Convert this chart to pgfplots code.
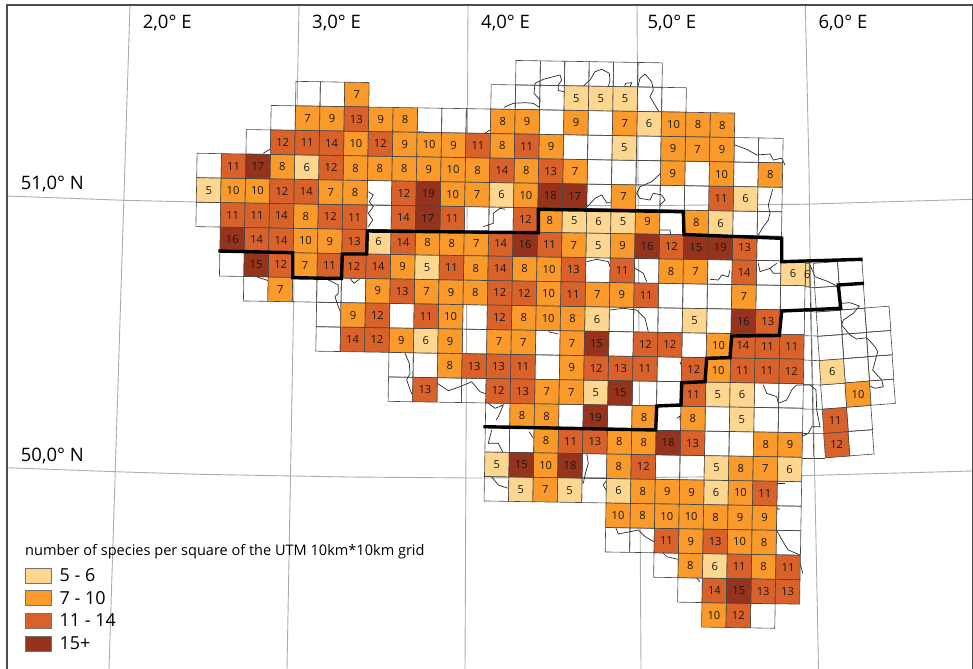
\documentclass[border=0pt]{standalone}
\usepackage{fontspec}
\setmainfont{Open Sans}
\usepackage{pgfplots}
\usepackage{pgfplotstable}
\pgfplotsset{compat=1.18}

\definecolor{cA}{RGB}{253,215,143}
\definecolor{cB}{RGB}{249,154,43}
\definecolor{cC}{RGB}{217,98,43}
\definecolor{cD}{RGB}{149,51,29}
\definecolor{edge}{RGB}{70,70,70}
\definecolor{gratcol}{RGB}{172,172,172}

% main grid (zone 31), col row n, one cell per entry
\pgfplotstableread[row sep=\\]{
col row\\
13 -5\\ 14 -5\\ 15 -5\\ 16 -5\\ 17 -5\\ 18 -5\\
4 -4\\ 5 -4\\ 12 -4\\ 13 -4\\ 14 -4\\ 18 -4\\ 19 -4\\
3 -3\\ 9 -3\\ 10 -3\\ 11 -3\\ 14 -3\\ 16 -3\\
2 -2\\ 15 -2\\ 16 -2\\ 18 -2\\ 22 -2\\ 23 -2\\
0 -1\\ 16 -1\\ 17 -1\\ 18 -1\\ 20 -1\\ 22 -1\\
7 0\\ 16 0\\ 18 0\\ 19 0\\ 20 0\\ 23 0\\
0 1\\ 7 1\\ 11 1\\ 12 1\\ 19 1\\ 22 1\\ 23 1\\
23 2\\
1 3\\ 16 3\\ 18 3\\ 21 3\\ 23 3\\
2 4\\ 4 4\\ 5 4\\ 6 4\\ 19 4\\ 20 4\\ 21 4\\ 23 4\\ 24 4\\
5 5\\ 8 5\\ 11 5\\ 17 5\\ 18 5\\ 19 5\\ 21 5\\ 24 5\\
5 6\\ 11 6\\ 14 6\\ 17 6\\ 20 6\\
8 7\\ 9 7\\ 14 7\\ 19 7\\
8 8\\ 10 8\\ 11 8\\ 18 8\\ 19 8\\ 23 8\\ 24 8\\
12 9\\ 15 9\\ 17 9\\ 19 9\\ 21 9\\ 23 9\\ 24 9\\
12 10\\ 13 10\\ 21 10\\ 22 10\\
16 11\\ 19 11\\ 20 11\\
12 12\\ 16 12\\ 24 12\\
24 13\\
17 14\\ 18 14\\ 24 14\\
19 15\\
20 16\\
23 17\\
}\cellsW

\pgfplotstableread[row sep=\\]{
col row n\\
15 -4 5\\ 16 -4 5\\ 17 -4 5\\
18 -3 6\\ 17 -2 5\\ 4 -1 6\\
0 0 5\\ 12 0 6\\ 22 0 6\\
15 1 5\\ 16 1 6\\ 17 1 5\\ 21 1 6\\
7 2 6\\ 16 2 5\\ 24 3 6\\ 9 3 5\\
16 5 6\\ 20 5 5\\ 9 6 6\\
16 8 5\\ 21 8 5\\ 22 8 6\\ 22 9 5\\
12 11 5\\ 21 11 5\\ 24 11 6\\
13 12 5\\ 15 12 5\\ 17 12 6\\ 21 12 6\\
21 15 6\\
}\cellsA

\pgfplotstableread[row sep=\\]{
col row n\\
6 -4 7\\
4 -3 7\\ 5 -3 9\\ 7 -3 9\\ 8 -3 8\\ 12 -3 8\\ 13 -3 9\\ 15 -3 9\\ 17 -3 7\\ 19 -3 10\\ 20 -3 8\\ 21 -3 8\\
6 -2 10\\ 8 -2 9\\ 9 -2 10\\ 10 -2 9\\ 12 -2 8\\ 14 -2 9\\ 19 -2 9\\ 20 -2 7\\ 21 -2 9\\
3 -1 8\\ 6 -1 8\\ 7 -1 8\\ 8 -1 8\\ 9 -1 9\\ 10 -1 10\\ 11 -1 8\\ 13 -1 8\\ 15 -1 7\\ 19 -1 9\\ 21 -1 10\\ 23 -1 8\\
1 0 10\\ 2 0 10\\ 5 0 7\\ 6 0 8\\ 10 0 10\\ 11 0 7\\ 13 0 10\\ 17 0 7\\
4 1 8\\ 14 1 8\\ 18 1 9\\ 20 1 8\\
4 2 10\\ 5 2 9\\ 9 2 8\\ 10 2 8\\ 11 2 7\\ 15 2 7\\ 17 2 9\\
4 3 7\\ 8 3 9\\ 11 3 8\\ 13 3 8\\ 14 3 10\\ 19 3 8\\ 20 3 7\\
3 4 7\\ 7 4 9\\ 9 4 7\\ 10 4 9\\ 11 4 8\\ 14 4 10\\ 16 4 7\\ 17 4 9\\ 22 4 7\\
6 5 9\\ 10 5 10\\ 13 5 8\\ 14 5 10\\ 15 5 8\\
8 6 9\\ 10 6 9\\ 12 6 7\\ 13 6 7\\ 15 6 7\\ 21 6 10\\
10 7 8\\ 15 7 9\\ 21 7 10\\
14 8 7\\ 15 8 7\\
13 9 8\\ 14 9 8\\ 18 9 8\\ 20 9 8\\
14 10 8\\ 17 10 8\\ 18 10 8\\ 23 10 8\\ 24 10 9\\
14 11 10\\ 17 11 8\\ 22 11 8\\ 23 11 7\\
14 12 7\\ 18 12 8\\ 19 12 9\\ 20 12 9\\ 22 12 10\\
17 13 10\\ 18 13 8\\ 19 13 10\\ 20 13 10\\ 21 13 8\\ 22 13 9\\ 23 13 9\\
20 14 9\\ 22 14 10\\ 23 14 8\\
20 15 8\\ 23 15 8\\
21 17 10\\
}\cellsB

\pgfplotstableread[row sep=\\]{
col row n\\
6 -3 13\\
3 -2 12\\ 4 -2 11\\ 5 -2 14\\ 7 -2 12\\ 11 -2 11\\ 13 -2 11\\
1 -1 11\\ 5 -1 12\\ 12 -1 14\\ 14 -1 13\\
3 0 12\\ 4 0 14\\ 8 0 12\\ 21 0 11\\
1 1 11\\ 2 1 11\\ 3 1 14\\ 5 1 12\\ 6 1 11\\ 8 1 14\\ 10 1 11\\ 13 1 12\\
2 2 14\\ 3 2 14\\ 6 2 13\\ 8 2 14\\ 12 2 14\\ 14 2 11\\ 19 2 12\\ 22 2 13\\
3 3 12\\ 5 3 11\\ 6 3 12\\ 7 3 14\\ 10 3 11\\ 12 3 14\\ 15 3 13\\ 17 3 11\\ 22 3 14\\
8 4 13\\ 12 4 12\\ 13 4 12\\ 15 4 11\\ 18 4 11\\
7 5 12\\ 9 5 11\\ 12 5 12\\ 23 5 13\\
6 6 14\\ 7 6 12\\ 18 6 12\\ 19 6 12\\ 22 6 14\\ 23 6 11\\ 24 6 11\\
11 7 13\\ 12 7 13\\ 13 7 11\\ 16 7 12\\ 17 7 13\\ 18 7 11\\ 20 7 12\\ 22 7 11\\ 23 7 11\\ 24 7 12\\
9 8 13\\ 12 8 12\\ 13 8 13\\ 20 8 11\\
15 10 11\\ 16 10 13\\ 20 10 13\\
18 11 12\\
23 12 11\\
19 14 11\\ 21 14 13\\
22 15 11\\ 24 15 11\\
21 16 14\\ 23 16 13\\ 24 16 13\\
22 17 12\\
}\cellsC

\pgfplotstableread[row sep=\\]{
col row n\\
2 -1 17\\ 9 0 19\\ 14 0 18\\ 15 0 17\\ 9 1 17\\
1 2 16\\ 13 2 16\\ 18 2 16\\ 20 2 15\\ 21 2 19\\
2 3 15\\ 22 5 16\\ 16 6 15\\ 17 8 15\\ 16 9 19\\
19 10 18\\ 13 11 15\\ 15 11 18\\ 22 16 15\\
}\cellsD

% eastern block (zone 32)
\pgfplotstableread[row sep=\\]{
col row\\
0 -4\\ 0 -3\\ 0 -2\\ 0 -1\\ 0 1\\
1 -4\\ 1 -3\\ 1 -2\\ 1 -1\\ 1 0\\ 1 2\\ 1 3\\
2 -2\\ 2 -1\\ 2 0\\ 2 1\\
}\eastW
\pgfplotstableread[row sep=\\]{
col row n\\
0 0 6\\
}\eastA
\pgfplotstableread[row sep=\\]{
col row n\\
1 1 10\\
}\eastB
\pgfplotstableread[row sep=\\]{
col row n\\
0 2 11\\ 0 3 12\\
}\eastC

\newcommand{\gx}{196.7+24.4*(\thisrow{col}+.5)-0.42*(\thisrow{row}+.5)}
\newcommand{\gy}{177.7+0.4*(\thisrow{col}+.5)+24.5*(\thisrow{row}+.5)}
\newcommand{\ex}{819.3+24.3*(\thisrow{col}+.5)+1.5*(\thisrow{row}+.5)}
\newcommand{\ey}{360.7-2*(\thisrow{col}+.5)+24.3*(\thisrow{row}+.5)}

\pgfplotsset{mapaxis/.style={
  at={(0bp,0bp)}, anchor=south west,
  scale only axis, width=973bp, height=669bp,
  xmin=0, xmax=973, ymin=0, ymax=669, y dir=reverse,
  hide axis, clip=false}}

\begin{document}
\begin{tikzpicture}
\useasboundingbox (0bp,0bp) rectangle (973bp,669bp);
\begin{axis}[
  mapaxis,
  cell/.style={only marks, mark=square*, mark size=12.2bp,
    mark options={rotate=-0.95, draw=edge, line width=0.6bp, fill=#1}},
  wcell/.style={only marks, mark=square, mark size=12.2bp, forget plot,
    mark options={rotate=-0.95, draw=edge, line width=0.6bp}},
  ecell/.style={only marks, mark=square*, mark size=12.2bp, forget plot,
    mark options={rotate=4.2, draw=edge, line width=0.6bp, fill=#1}},
  ewcell/.style={only marks, mark=square, mark size=12.2bp, forget plot,
    mark options={rotate=4.2, draw=edge, line width=0.6bp}},
  num/.style={point meta=explicit symbolic, nodes near coords,
    nodes near coords align=center,
    every node near coord/.append style={anchor=center, inner sep=0pt, text=black!90,
      font=\fontsize{11.2}{12}\selectfont}},
  swatch/.style={legend image code/.code={
    \draw[draw=black!55, line width=0.7bp, fill=#1] (0bp,-7.5bp) rectangle (26bp,7.5bp);}},
  grat/.style={draw=gratcol, line width=0.9bp, forget plot},
  coast/.style={draw=black!85, line width=0.7bp, forget plot},
  gridline/.style={draw=edge, line width=0.6bp, forget plot},
  legend style={at={(axis cs:25,567.8)}, anchor=north west, draw=none, fill=none,
    inner sep=0pt, outer sep=0pt, row sep=6.9bp, column sep=8bp,
    font=\fontsize{18}{20}\selectfont, nodes={inner sep=0pt, outer sep=0pt}},
  legend cell align=left,
]
% graticule
\addplot[grat] coordinates {(130,5)(109,669)};
\addplot[grat] coordinates {(299,5)(287,669)};
\addplot[grat] coordinates {(468,5)(465,669)};
\addplot[grat] coordinates {(637,5)(641,669)};
\addplot[grat] coordinates {(805.3,5)(809,170)(810,253)(815,490)(818.5,669)};
\addplot[grat] coordinates {(7,196)(124,200.3)(196,202)(350,204.8)(490,206)(650,205.5)(800,204.3)(973,199.3)};
\addplot[grat] coordinates {(7,467.7)(115,471.7)(200,474.3)(350,477)(470,478)(650,477.5)(800,475.7)(972,471)};

% national borders and coast
\addplot[coast] coordinates {(504,107.3)(513.3,103.3)(525,102.7)(533.3,103.3)(539.3,107.3)(540,100)(534,93.3)(535,83.3)(543.3,79.3)(560,75)(561.7,80)(558.3,85)(558.3,90.7)(565,91.7)};
\addplot[coast] coordinates {(582.7,86.7)(590,80)(595,71.7)(601.7,69.3)(609.3,73.3)(610,80)(608.3,86.7)};
\addplot[coast] coordinates {(624.3,87.3)(625.7,83.3)(631.7,82.7)(630,86.7)};
\addplot[coast] coordinates {(637.7,87.3)(640,78.3)(645,74)(651.7,81.7)(653.3,90)(650,96.7)(655,105)(660,113.3)};
\addplot[coast] coordinates {(735,145)(746.7,149.3)(756.7,155)(770,154)(773.3,160)(781.7,158.3)(785,165)};
\addplot[coast] coordinates {(660,174)(651.7,181.7)(640,186.7)(636.7,193.3)(640,198.3)(650,200)(653.3,193.3)(661.7,195)(665,200)(660,205)};
\addplot[coast] coordinates {(587.3,206.7)(595,198.3)(601.7,195)(606.7,202.7)(611,202.7)};
\addplot[coast] coordinates {(772.7,189.3)(768.3,205)(770,213.3)(768.3,220)(763.3,226.7)(758.3,235)};
\addplot[coast] coordinates {(660,230)(670,230)(670.7,235)};
\addplot[coast] coordinates {(483.3,226.7)(493.3,223.3)(493.3,213.3)(500,208.3)(505,209.3)};
\addplot[coast] coordinates {(263.3,153.3)(270,149.3)};
\addplot[coast] coordinates {(418.3,131.7)(426.7,132.3)};
\addplot[coast] coordinates {(485,133.3)(490,130)};
\addplot[coast] coordinates {(368.3,191.7)(373.3,195)(369.3,201.7)(373.3,206.7)(368.3,213.3)(372.7,220)(368.3,226.7)};
\addplot[coast] coordinates {(256.7,276.7)(268.3,280.7)};
\addplot[coast] coordinates {(328.3,280)(338.3,285)(338.3,293.3)(335,296.7)(338.3,306.7)(341,313.3)};
\addplot[coast] coordinates {(350,278.3)(354,283.3)(359.3,279.3)};
\addplot[coast] coordinates {(405,353.3)(409.3,363.3)(410,373.3)(406.7,380)(411.7,394)};
\addplot[coast] coordinates {(437.3,383.3)(448.3,390.7)(460,386.7)(471.7,381.7)(480,391.7)(486.7,394)};
\addplot[coast] coordinates {(488.3,403.3)(495,408.3)(503.3,405)(498.3,416.7)(496,420)};
\addplot[coast] coordinates {(586.7,261.7)(596.7,259.3)(608.3,261.7)(610,266.7)};
\addplot[coast] coordinates {(635,268.3)(643.3,273.3)(646.7,281.7)};
\addplot[coast] coordinates {(710,279.3)(718.3,280)(721.7,275)(728.3,276.7)(730,270)};
\addplot[coast] coordinates {(758.3,263.3)(760,271.7)(770,268.3)(776.7,263.3)};
\addplot[coast] coordinates {(770,268.3)(773.3,273.3)(781.7,273.3)};
\addplot[coast] coordinates {(610,310)(623.3,308.3)(636.7,310)(645,318.3)(648.3,331.7)};
\addplot[coast] coordinates {(548.3,331.7)(558.3,334)};
\addplot[coast] coordinates {(680,361.7)(681.7,366.7)};
\addplot[coast] coordinates {(763.3,385)(766.7,393.3)(776.7,396.7)(778.3,403.3)(786.7,400)(791.7,390)(796.7,385)(810,385)(816,390)(816.7,410)(820,426.7)(811.7,426.7)(808.3,433.3)(801.7,436.7)(802.7,441.7)};
\addplot[coast] coordinates {(676.7,418.3)(680,416)(680,420.7)};
\addplot[coast] coordinates {(529.3,431.7)(533.3,438.3)};
\addplot[coast] coordinates {(491.7,430)(488.3,443.3)(498.3,443.3)(503.3,453.3)};
\addplot[coast] coordinates {(491.7,476.7)(498.3,485)(508.3,488.3)};
\addplot[coast] coordinates {(586.7,453.3)(588.3,463.3)(585,475)(583.3,483.3)};
\addplot[coast] coordinates {(606.7,480)(603.3,485)(606,490)};
\addplot[coast] coordinates {(615.7,527.3)(618.3,534)(630,531.7)(638.3,530)(645,536.7)(654,541.7)};
\addplot[coast] coordinates {(662.7,552.7)(666.7,556.7)(678.3,559.3)};
\addplot[coast] coordinates {(696.7,578.3)(700,581.7)};
\addplot[coast] coordinates {(776.7,530.7)(785,545)(788.3,550)(800,555)};
\addplot[coast] coordinates {(776.7,483.3)(785,483.3)};
\addplot[coast] coordinates {(776.7,507.3)(779.3,510)};
\addplot[coast] coordinates {(800,563.3)(802.7,573.3)};
\addplot[coast] coordinates {(810,265)(815,276.7)(828.3,281.7)(835,285)(839.3,290)};
\addplot[coast] coordinates {(841.7,303.3)(850,302.7)(859.3,306)(853.3,313.3)(843.3,320)(841.7,325)(850,335)(856.7,339)(866.7,337.7)(875,346.7)(877.7,351.7)(875,361.7)(872.7,370)(881.7,380)(883.3,386.7)(875,388.3)(870,386)};

% empty squares of the grid
\addplot[wcell] table[x expr={\gx}, y expr={\gy}] {\cellsW};
\addplot[ewcell] table[x expr={\ex}, y expr={\ey}] {\eastW};

% slivers between the two zones
\addplot[gridline, fill=cA] coordinates {(805.2,263.5)(809.6,263.2)(810,287)(805.6,286.8)} -- cycle;
\addplot[gridline] coordinates {(809.6,263)(813.7,456.7)};
\addplot[gridline] coordinates {(805.6,286.7)(814.5,287.7)};
\addplot[gridline] coordinates {(805,311)(815.5,312)};
\addplot[gridline] coordinates {(804.6,335.7)(817,336)};
\addplot[gridline] coordinates {(804,360)(819.3,360.7)};
\addplot[gridline] coordinates {(803.6,384.5)(820.8,385)};
\addplot[gridline] coordinates {(803.2,409)(822.3,409.3)};
\addplot[gridline] coordinates {(802.8,433.5)(823.8,433.7)};
\addplot[gridline] coordinates {(802.4,458)(825.3,458)};

% species counts per class
\addplot[cell=cA, num, swatch=cA] table[x expr={\gx}, y expr={\gy}, meta=n] {\cellsA};
\addlegendentry{5 - 6}
\addplot[cell=cB, num, swatch=cB] table[x expr={\gx}, y expr={\gy}, meta=n] {\cellsB};
\addlegendentry{7 - 10}
\addplot[cell=cC, num, swatch=cC] table[x expr={\gx}, y expr={\gy}, meta=n] {\cellsC};
\addlegendentry{11 - 14}
\addplot[cell=cD, num, swatch=cD] table[x expr={\gx}, y expr={\gy}, meta=n] {\cellsD};
\addlegendentry{15+}
\addplot[ecell=cA, num] table[x expr={\ex}, y expr={\ey}, meta=n] {\eastA};
\addplot[ecell=cB, num] table[x expr={\ex}, y expr={\ey}, meta=n] {\eastB};
\addplot[ecell=cC, num] table[x expr={\ex}, y expr={\ey}, meta=n] {\eastC};
\end{axis}

% second axis so that the boundary lies above the cell marks
\begin{axis}[mapaxis,
  bound/.style={draw=black, line width=3.4bp, forget plot, line join=miter}]
\addplot[bound] coordinates {(218.3,251)(292.7,252.7)(292.7,277.7)(341.5,278.5)(342.3,254)(366.7,254)(367.3,231)(538.3,232.7)(538.3,209.3)(683.3,211.7)(684,234.5)(781.7,238.3)(781.7,261.7)(862.7,259.3)};
\addplot[bound] coordinates {(864,283.3)(838.3,285)(840.7,308.3)(781.7,311)(779.3,335.5)(731.7,336)(730,357.7)(706.7,358.3)(705,381.7)(681.7,382.7)(681,405)(656.7,406)(655.7,430)(483.3,426.7)};

% frame
\addplot[draw=black!70, line width=1.2bp, forget plot] coordinates {(7,669)(7,5)(972.4,5)(972.4,669)};

% text
\node[anchor=base west, font=\fontsize{18.6}{20}\selectfont] at (axis cs:139.3,28.3) {2,0° E};
\node[anchor=base west, font=\fontsize{18.6}{20}\selectfont] at (axis cs:308.7,28.3) {3,0° E};
\node[anchor=base west, font=\fontsize{18.6}{20}\selectfont] at (axis cs:477.7,28.3) {4,0° E};
\node[anchor=base west, font=\fontsize{18.6}{20}\selectfont] at (axis cs:644,28.3) {5,0° E};
\node[anchor=base west, font=\fontsize{18.6}{20}\selectfont] at (axis cs:815,28.3) {6,0° E};
\node[anchor=base west, font=\fontsize{18.6}{20}\selectfont] at (axis cs:17.3,189) {51,0° N};
\node[anchor=base west, font=\fontsize{18.6}{20}\selectfont] at (axis cs:17.3,461.7) {50,0° N};
\node[anchor=base west, font=\fontsize{14.6}{16}\selectfont, inner sep=0pt] at (axis cs:25,555) {number of species per square of the UTM 10km*10km grid};
\node[anchor=center, inner sep=0pt, font=\fontsize{11.2}{12}\selectfont, text=black!90] at (axis cs:807.3,275) {6};
\end{axis}
\end{tikzpicture}
\end{document}
